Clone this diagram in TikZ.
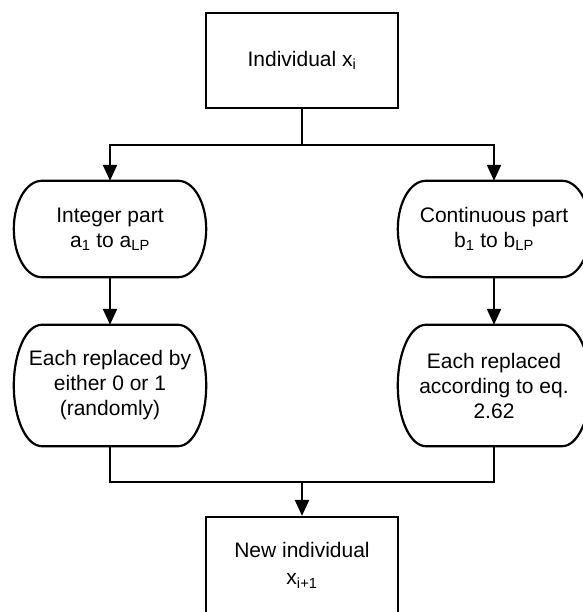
\documentclass[tikz,border=0pt]{standalone}
\usepackage{fontspec}
\setmainfont{Liberation Sans}
\usetikzlibrary{arrows.meta,calc}

\tikzset{
  x=1pt, y=1pt,
  txt/.style={font=\fontsize{21}{25}\selectfont, align=center, inner sep=0pt},
  boxnode/.style={txt, draw, line width=2.2pt, minimum width=192pt, minimum height=95pt},
  termnode/.style={txt, minimum width=192pt, minimum height=#1},
  wire/.style={line width=2.2pt},
  arrowline/.style={wire, -{Triangle[width=14pt,length=16pt]}},
}

\begin{document}
\begin{tikzpicture}
\useasboundingbox (0,0) rectangle (582,612);

% process boxes
\node[boxnode] (top) at (302,551.5) {Individual x\textsubscript{i}};
\node[boxnode, minimum height=97pt] (newind) at (302,46.5)
  {New individual\\[2pt]x\textsubscript{i+1}};

% terminator-shaped steps
\node[termnode=96pt] (intL) at (110,383) {Integer part\\a\textsubscript{1} to a\textsubscript{LP}};
\node[termnode=96pt] (intR) at (494,383) {Continuous part\\b\textsubscript{1} to b\textsubscript{LP}};
\node[termnode=121pt] (eachL) at (110,226.5) {Each replaced by\\either 0 or 1\\(randomly)};
\node[termnode=121pt] (eachR) at (494,226.5) {Each replaced\\according to eq.\\2.62};

% outlines: straight top and bottom, elliptic ends
\foreach \nd in {intL,intR,eachL,eachR}{
  \draw[wire] let \p1=(\nd.north east), \p2=(\nd.south west), \n1={(\y1-\y2)/2} in
    ($(\x2,\y1)+(28pt,0)$) -- ($(\x1,\y1)+(-28pt,0)$)
    arc[start angle=90, end angle=-90, x radius=28pt, y radius=\n1]
    -- ($(\x2,\y2)+(28pt,0)$)
    arc[start angle=270, end angle=90, x radius=28pt, y radius=\n1] -- cycle;
}

% connectors
\coordinate (split) at (302,467);
\coordinate (merge) at (302,130);
\draw[wire] (top.south) -- (split);
\draw[arrowline] (split) -| (intL.north);
\draw[arrowline] (split) -| (intR.north);
\draw[arrowline] (intL.south) -- (eachL.north);
\draw[arrowline] (intR.south) -- (eachR.north);
\draw[wire] (eachL.south) |- (merge);
\draw[wire] (eachR.south) |- (merge);
\draw[arrowline] (merge) -- (newind.north);
\end{tikzpicture}
\end{document}
